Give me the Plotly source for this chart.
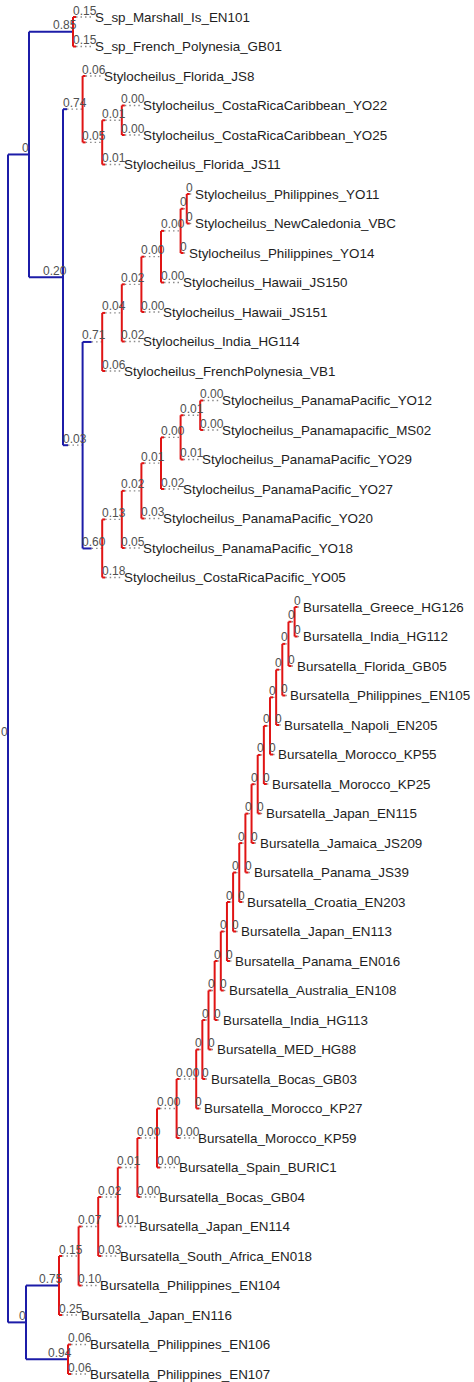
import plotly.graph_objects as go

# ---------------- data ----------------
LEAF_NAMES = [
    "S_sp_Marshall_Is_EN101", "S_sp_French_Polynesia_GB01",
    "Stylocheilus_Florida_JS8", "Stylocheilus_CostaRicaCaribbean_YO22",
    "Stylocheilus_CostaRicaCaribbean_YO25", "Stylocheilus_Florida_JS11",
    "Stylocheilus_Philippines_YO11", "Stylocheilus_NewCaledonia_VBC",
    "Stylocheilus_Philippines_YO14", "Stylocheilus_Hawaii_JS150",
    "Stylocheilus_Hawaii_JS151", "Stylocheilus_India_HG114",
    "Stylocheilus_FrenchPolynesia_VB1", "Stylocheilus_PanamaPacific_YO12",
    "Stylocheilus_Panamapacific_MS02", "Stylocheilus_PanamaPacific_YO29",
    "Stylocheilus_PanamaPacific_YO27", "Stylocheilus_PanamaPacific_YO20",
    "Stylocheilus_PanamaPacific_YO18", "Stylocheilus_CostaRicaPacific_YO05",
    "Bursatella_Greece_HG126", "Bursatella_India_HG112", "Bursatella_Florida_GB05",
    "Bursatella_Philippines_EN105", "Bursatella_Napoli_EN205",
    "Bursatella_Morocco_KP55", "Bursatella_Morocco_KP25", "Bursatella_Japan_EN115",
    "Bursatella_Jamaica_JS209", "Bursatella_Panama_JS39", "Bursatella_Croatia_EN203",
    "Bursatella_Japan_EN113", "Bursatella_Panama_EN016", "Bursatella_Australia_EN108",
    "Bursatella_India_HG113", "Bursatella_MED_HG88", "Bursatella_Bocas_GB03",
    "Bursatella_Morocco_KP27", "Bursatella_Morocco_KP59", "Bursatella_Spain_BURIC1",
    "Bursatella_Bocas_GB04", "Bursatella_Japan_EN114", "Bursatella_South_Africa_EN018",
    "Bursatella_Philippines_EN104", "Bursatella_Japan_EN116",
    "Bursatella_Philippines_EN106", "Bursatella_Philippines_EN107",
]
LEAF_VALUES = [
    "0.15", "0.15", "0.06", "0.00", "0.00", "0.01", "0", "0", "0", "0.00",
    "0.00", "0.02", "0.06", "0.00", "0.00", "0.01", "0.02", "0.03", "0.05", "0.18",
    "0", "0", "0", "0", "0", "0", "0", "0", "0", "0",
    "0", "0", "0", "0", "0", "0", "0", "0", "0.00", "0.00",
    "0.00", "0.01", "0.03", "0.10", "0.25", "0.06", "0.06",
]

# internal node = (value label, drawn branch length or None, group, children)
# children are leaf indices or other internal nodes
N0 = ("0", None, "r", [6, 7])
N00t = ("0.00", None, "r", [N0, 8])
N00s = ("0.00", None, "r", [N00t, 9])
N02s = ("0.02", None, "r", [N00s, 10])
N04 = ("0.04", None, "r", [N02s, 11])
N71 = ("0.71", 0.09, "r", [N04, 12])
N01q = ("0.01", None, "r", [13, 14])
N00p = ("0.00", None, "r", [N01q, 15])
N01p = ("0.01", None, "r", [N00p, 16])
N02p = ("0.02", None, "r", [N01p, 17])
N13 = ("0.13", None, "r", [N02p, 18])
N60 = ("0.60", 0.09, "r", [N13, 19])
N03 = ("0.03", 0.05, "b", [N71, N60])
N01a = ("0.01", None, "r", [3, 4])
N05 = ("0.05", None, "r", [N01a, 5])
N74 = ("0.74", 0.04, "r", [2, N05])
N20 = ("0.20", 0.34, "b", [N74, N03])
N85 = ("0.85", 0.44, "r", [0, 1])
NA = ("0", 0.21, "b", [N85, N20])

# Bursatella caterpillar of zero-valued nodes
LADDER_LEAVES = [22, 23, 24, 25, 26, 27, 28, 29, 30, 31, 32, 33, 34, 35, 36]
lad = ("0", None, "r", [20, 21])
for li in LADDER_LEAVES:
    lad = ("0", None, "r", [lad, li])
Nc = ("0.00", None, "r", [lad, 37])
Nb = ("0.00", None, "r", [Nc, 38])
Na = ("0.00", None, "r", [Nb, 39])
N01 = ("0.01", None, "r", [Na, 40])
N02 = ("0.02", None, "r", [N01, 41])
N07 = ("0.07", None, "r", [N02, 42])
N15 = ("0.15", None, "r", [N07, 43])
NB = ("0.75", 0.33, "r", [N15, 44])
NC = ("0.94", 0.42, "r", [45, 46])
NZ = ("0", 0.18, "b", [NB, NC])
ROOT = ("0", 0.0, "b", [NA, NZ])

# ---------------- layout / styling ----------------
SCALE = 100.0      # px per drawn unit
ROOT_X = 8.0
STEM = 3.0         # short solid stem for unmeasured branches
COLORS = {"b": "#1c1ca8", "r": "#e01414"}
FAMILY = "Liberation Sans, Arial, sans-serif"
LABEL_FONT = dict(family=FAMILY, size=12, color="#505050")
LEAF_FONT = dict(family=FAMILY, size=13.4, color="#1e1e1e")


def ext(lbl):
    return 6.15 if lbl == "0" else 19.6


segs = {"b": ([], []), "r": ([], []), "dot": ([], [])}
anns = []


def add_seg(key, x0, y0, x1, y1):
    xs, ys = segs[key]
    xs += [x0, x1, None]
    ys += [y0, y1, None]


def label_ann(x, y, txt):
    anns.append(dict(x=x, y=y, text=txt, showarrow=False, xanchor="right",
                     yanchor="middle", xshift=(1 if txt == "0" else 5), yshift=6.5,
                     font=LABEL_FONT, borderpad=0))


def place(n, px, pgroup):
    if isinstance(n, int):
        lab, bl = LEAF_VALUES[n], None
    else:
        lab, bl, grp, ch = n
    solid = bl * SCALE if bl is not None else STEM
    x = px + max(solid, ext(lab))
    if isinstance(n, int):
        y = n
        anns.append(dict(x=x, y=y, text=LEAF_NAMES[n], showarrow=False,
                         xanchor="left", yanchor="middle", xshift=1,
                         font=LEAF_FONT, borderpad=0))
    else:
        ys = [place(c, x, grp) for c in ch]
        y = (ys[0] + ys[-1]) / 2
        add_seg(grp, x, ys[0], x, ys[-1])
    s_end = min(px + solid, x)
    if s_end < x:
        add_seg("dot", s_end, y, x, y)
    add_seg(pgroup, px, y, s_end, y)
    label_ann(x, y, lab)
    return y


rlab, _, rgrp, rch = ROOT
rys = [place(c, ROOT_X, rgrp) for c in rch]
add_seg(rgrp, ROOT_X, rys[0], ROOT_X, rys[-1])
anns.append(dict(x=ROOT_X, y=(rys[0] + rys[-1]) / 2, text=rlab, showarrow=False,
                 xanchor="right", yanchor="middle", xshift=1, yshift=6.5,
                 font=LABEL_FONT, borderpad=0))

fig = go.Figure()
fig.add_trace(go.Scatter(x=segs["dot"][0], y=segs["dot"][1], mode="lines",
                         line=dict(color="#8a8a8a", width=1.3, dash="1.5px,3px"),
                         hoverinfo="skip", showlegend=False))
for key in ("b", "r"):
    fig.add_trace(go.Scatter(x=segs[key][0], y=segs[key][1], mode="lines",
                             line=dict(color=COLORS[key], width=2),
                             hoverinfo="skip", showlegend=False))

W, H = 474, 1382
ROW = 29.5
TOP = 17.0
y0 = -TOP / ROW
fig.update_layout(
    width=W, height=H, margin=dict(l=0, r=0, t=0, b=0),
    paper_bgcolor="white", plot_bgcolor="white",
    font=dict(family=FAMILY),
    xaxis=dict(range=[0, W], visible=False, fixedrange=True),
    yaxis=dict(range=[y0 + H / ROW, y0], visible=False, fixedrange=True),
    annotations=anns, showlegend=False, hovermode=False,
)
fig.write_html("out.html", config={"displayModeBar": False})
